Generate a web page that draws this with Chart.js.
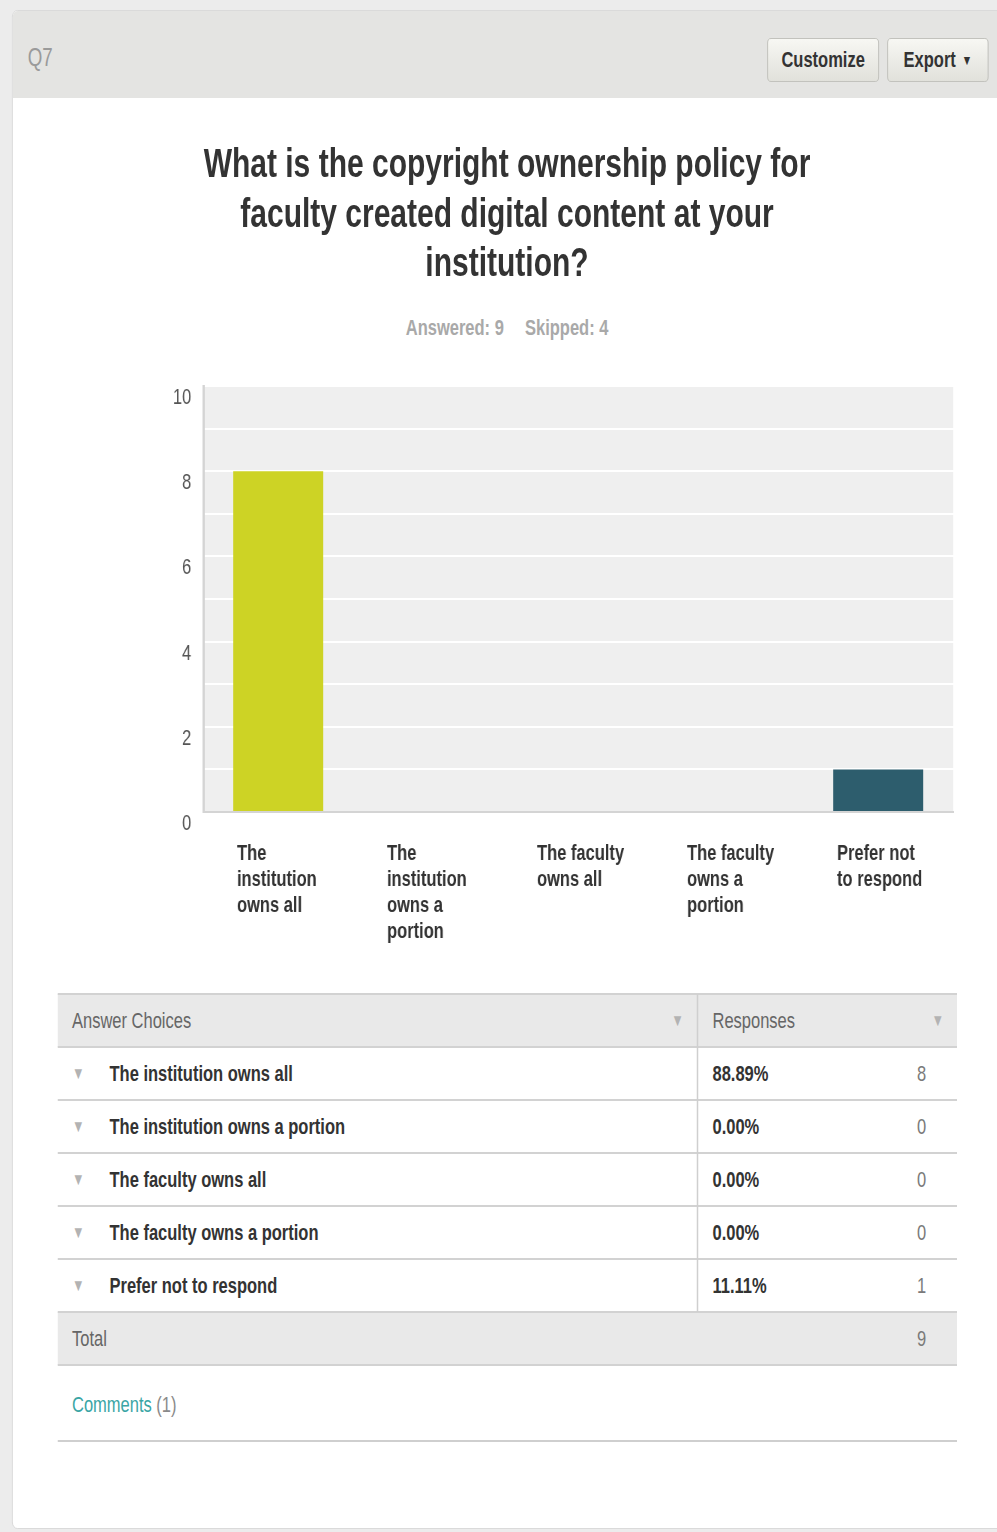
<!DOCTYPE html>
<html>
<head>
<meta charset="utf-8">
<script src="https://cdn.jsdelivr.net/npm/chart.js@4"></script>
<style>
  html, body { margin: 0; padding: 0; }
  body { width: 997px; height: 1532px; background: #ececec; overflow: hidden; }
  /* the page is laid out wide and squeezed horizontally to get a condensed face */
  #page {
    position: absolute; left: 0; top: 0; width: 1330px; height: 1532px;
    transform: scaleX(0.75); transform-origin: 0 0;
    font-family: 'Liberation Sans', Arial, sans-serif; color: #333;
  }
  .card {
    position: absolute; left: 16px; top: 10px; width: 1340px; height: 1517px;
    background: #fff; border: 1px solid #d6d6d6; border-radius: 7px; overflow: hidden;
  }
  .head { position: absolute; left: 0; top: 0; right: 0; height: 87px; background: #e4e4e2; }
  .qnum { position: absolute; left: 20px; top: 31px; font-size: 25px; line-height: 30px; color: #9a9a9a; }
  .btn {
    position: absolute; top: 27px; height: 44px; border: 1px solid #bdbdb7; border-radius: 5px;
    background: linear-gradient(#f7f7f3, #e1e1db); font-weight: bold; font-size: 22px; color: #333;
    line-height: 42px; text-align: center; box-sizing: border-box;
  }
  .btn small { font-size: 14px; margin-left: 8px; vertical-align: 2px; }
  .title {
    position: absolute; left: 0; width: 1352px; top: 139px; text-align: center;
    font-weight: bold; font-size: 40px; line-height: 49.5px; color: #333;
  }
  .meta { position: absolute; top: 317px; font-weight: bold; font-size: 22px; line-height: 22px; color: #a9a9a9; }
  #chartWrap { position: absolute; left: 0; top: 376px; width: 1330px; height: 586px; }
  .row { position: absolute; left: 77px; width: 1199px; height: 53px; line-height: 53px; font-size: 22px; }
  .row.shade { background: #e9e9e9; }
  .hline { position: absolute; left: 77px; width: 1199px; height: 2px; background: #d2d2d2; }
  .vline { position: absolute; left: 929px; width: 1.5px; background: #cfcfcf; }
  .row span { position: absolute; top: 0; white-space: nowrap; }
  .tri { color: #b3b3b3; font-size: 17px; }
  .lbl, .pct { font-weight: bold; color: #333; }
  .cnt { color: #7a7a7a; text-align: right; }
  .hdtxt { color: #666; }
  .comments { position: absolute; left: 96px; top: 1392px; font-size: 22px; line-height: 26px; color: #8a8a8a; }
  .comments a { color: #3aa5a5; }
  .rule { position: absolute; left: 77px; top: 1440px; width: 1199px; height: 2px; background: #cfcfcf; }
</style>
</head>
<body>
<div id="page">
  <div class="card">
    <div class="head">
      <div class="qnum">Q7</div>
      <div class="btn" style="left:1006px;width:149px">Customize</div>
      <div class="btn" style="left:1166px;width:135px">Export<small>▼</small></div>
    </div>
  </div>
  <div class="title">What is the copyright ownership policy for<br>faculty created digital content at your<br>institution?</div>
  <div class="meta" style="left:541px">Answered: 9</div>
  <div class="meta" style="left:700px">Skipped: 4</div>
  <div id="chartWrap"><canvas id="q7"></canvas></div>
  <div id="answers"></div>
  <div class="comments"><a>Comments</a> (1)</div>
  <div class="rule"></div>
</div>

<script>
const categories = [
  'The institution owns all',
  'The institution owns a portion',
  'The faculty owns all',
  'The faculty owns a portion',
  'Prefer not to respond'
];
const tickLabels = [
  ['The', 'institution', 'owns all'],
  ['The', 'institution', 'owns a', 'portion'],
  ['The faculty', 'owns all'],
  ['The faculty', 'owns a', 'portion'],
  ['Prefer not', 'to respond']
];
const responses = [8, 0, 0, 0, 1];
const percents = ['88.89%', '0.00%', '0.00%', '0.00%', '11.11%'];
const barColors = ['#cdd325', '#2a9fb2', '#7ea63a', '#b9503a', '#2d5d6d'];

const FONT = "'Liberation Sans', Arial, sans-serif";

// grey plot background behind the white grid lines
const plotBg = {
  id: 'plotBg',
  beforeDraw(chart) {
    const { ctx, chartArea: a } = chart;
    ctx.save();
    ctx.fillStyle = '#efefef';
    ctx.fillRect(a.left, a.top, a.right - a.left, a.bottom - a.top);
    ctx.restore();
  }
};

function noPadding(scale) {
  scale.paddingLeft = 0;
  scale.paddingRight = 0;
  scale.paddingTop = 0;
  scale.paddingBottom = 0;
}

new Chart(document.getElementById('q7'), {
  type: 'bar',
  data: {
    labels: tickLabels,
    datasets: [{
      data: responses,
      backgroundColor: barColors,
      barPercentage: 0.6,
      categoryPercentage: 1
    }]
  },
  options: {
    responsive: true,
    maintainAspectRatio: false,
    animation: false,
    layout: { padding: { top: 10, right: 59, left: 0, bottom: 0 } },
    plugins: { legend: { display: false }, tooltip: { enabled: false } },
    scales: {
      x: {
        grid: { display: false, drawTicks: false },
        border: { color: '#d4d4d4', width: 2 },
        ticks: {
          color: '#333',
          font: { family: FONT, size: 22, weight: 'bold', lineHeight: '26px' },
          align: 'start',
          labelOffset: -55,
          padding: 29,
          maxRotation: 0,
          autoSkip: false
        },
        afterFit(scale) { scale.height = 150; noPadding(scale); }
      },
      y: {
        min: 0,
        max: 10,
        grid: { color: '#ffffff', lineWidth: 2, drawTicks: false },
        border: { color: '#d4d4d4', width: 3 },
        ticks: {
          stepSize: 1,
          color: '#555',
          padding: 16,
          labelOffset: 12,
          autoSkip: false,
          font: { family: FONT, size: 22 },
          callback: v => (v % 2 === 0 ? v : '')
        },
        afterFit(scale) { scale.width = 271; noPadding(scale); }
      }
    }
  },
  plugins: [plotBg]
});

// response table: header, one row per answer, total
const box = document.getElementById('answers');
const total = responses.reduce((a, b) => a + b, 0);
const top0 = 994, rowH = 53;
let html = '';
html += '<div class="row shade" style="top:' + top0 + 'px">' +
  '<span class="hdtxt" style="left:19px">Answer Choices</span>' +
  '<span class="tri" style="left:818px">▼</span>' +
  '<span class="hdtxt" style="left:873px">Responses</span>' +
  '<span class="tri" style="left:1165px">▼</span></div>';
categories.forEach((c, i) => {
  const t = top0 + rowH * (i + 1);
  html += '<div class="row" style="top:' + t + 'px">' +
    '<span class="tri" style="left:19px">▼</span>' +
    '<span class="lbl" style="left:69px">' + c + '</span>' +
    '<span class="pct" style="left:873px">' + percents[i] + '</span>' +
    '<span class="cnt" style="right:41px">' + responses[i] + '</span></div>';
});
const tTot = top0 + rowH * (categories.length + 1);
html += '<div class="row shade" style="top:' + tTot + 'px">' +
  '<span class="hdtxt" style="left:19px">Total</span>' +
  '<span class="cnt" style="right:41px">' + total + '</span></div>';
for (let i = 0; i <= categories.length + 2; i++) {
  html += '<div class="hline" style="top:' + (top0 - 1 + rowH * i) + 'px"></div>';
}
html += '<div class="vline" style="top:' + top0 + 'px;height:' + (rowH * (categories.length + 1)) + 'px"></div>';
box.innerHTML = html;
</script>
</body>
</html>
